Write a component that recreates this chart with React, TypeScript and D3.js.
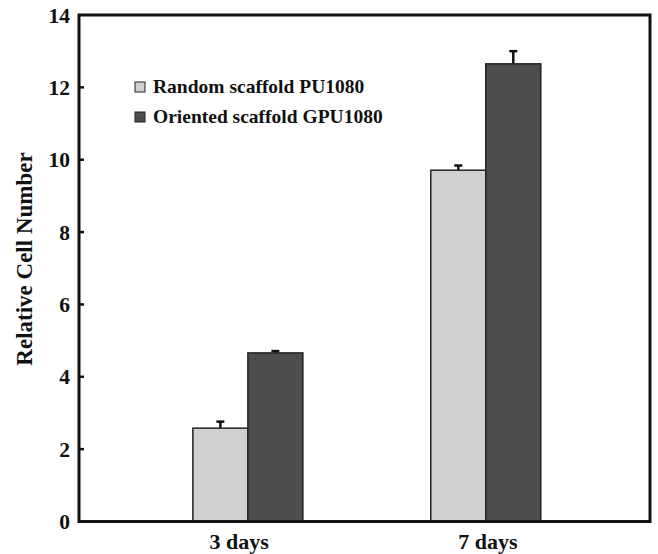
import React from "react";
import * as d3 from "d3";

const categories = ["3 days", "7 days"];
const seriesNames = ["Random scaffold PU1080", "Oriented scaffold GPU1080"];
const seriesColors = ["#d0d0d0", "#4d4d4d"];
const randomValues = [2.58, 9.71];
const randomErrors = [0.18, 0.13];
const orientedValues = [4.66, 12.65];
const orientedErrors = [0.05, 0.35];
const yTicks = [0, 2, 4, 6, 8, 10, 12, 14];

const W = 658;
const H = 554;
const m = { left: 79, right: 8, top: 15, bottom: 32.5 };

export default function App() {
  const x = d3
    .scalePoint<string>()
    .domain(categories)
    .range([m.left, W - m.right])
    .padding(0.7)
    .align(0.507);
  const xLabel = d3
    .scalePoint<string>()
    .domain(categories)
    .range([m.left, W - m.right])
    .padding(0.647)
    .align(0.497);
  const y = d3.scaleLinear().domain([0, 14]).range([H - m.bottom, m.top]);
  const inner = d3.scaleBand<number>().domain([0, 1]).range([-55, 55]);
  const series = [
    { vals: randomValues, errs: randomErrors },
    { vals: orientedValues, errs: orientedErrors },
  ];
  const font = "'Liberation Serif', 'Times New Roman', serif";
  return (
    <svg
      width={W}
      height={H}
      style={{ position: "absolute", left: 0, top: 0, background: "#fff" }}
      fontFamily={font}
      fontWeight="bold"
    >
      {series.map((s, si) =>
        categories.map((c, ci) => {
          const bx = (x(c) as number) + (inner(si) as number);
          const bw = inner.bandwidth();
          const top = y(s.vals[ci]);
          const et = y(s.vals[ci] + s.errs[ci]);
          return (
            <g key={`${si}-${ci}`}>
              <line x1={bx + bw / 2} x2={bx + bw / 2} y1={top} y2={et} stroke="#111" strokeWidth={2.5} />
              <line x1={bx + bw / 2 - 4} x2={bx + bw / 2 + 4} y1={et} y2={et} stroke="#111" strokeWidth={2.5} />
              <rect x={bx} y={top} width={bw} height={y(0) - top} fill={seriesColors[si]} stroke="#222" strokeWidth={1.5} />
            </g>
          );
        })
      )}
      <rect
        x={m.left}
        y={m.top}
        width={W - m.right - m.left}
        height={H - m.bottom - m.top}
        fill="none"
        stroke="#111"
        strokeWidth={3}
      />
      {yTicks.map((t) => (
        <g key={t}>
          {t > 0 && t < 14 && (
            <line x1={m.left} x2={m.left + 5} y1={y(t)} y2={y(t)} stroke="#111" strokeWidth={2.5} />
          )}
          <text x={70} y={y(t)} dy="0.35em" textAnchor="end" fontSize={21.5} fill="#111">
            {t}
          </text>
        </g>
      ))}
      {categories.map((c) => (
        <text key={c} x={xLabel(c) as number} y={549} textAnchor="middle" fontSize={22} fill="#111">
          {c}
        </text>
      ))}
      <text
        transform={`translate(32,259) rotate(-90)`}
        textAnchor="middle"
        fontSize={23}
        fill="#111"
      >
        Relative Cell Number
      </text>
      {seriesNames.map((n, i) => (
        <g key={n}>
          <rect
            x={135}
            y={82 + i * 30}
            width={10}
            height={10}
            fill={seriesColors[i]}
            stroke="#222"
            strokeWidth={1}
          />
          <text x={153} y={93 + i * 30} fontSize={19.5} fill="#111">
            {n}
          </text>
        </g>
      ))}
    </svg>
  );
}
